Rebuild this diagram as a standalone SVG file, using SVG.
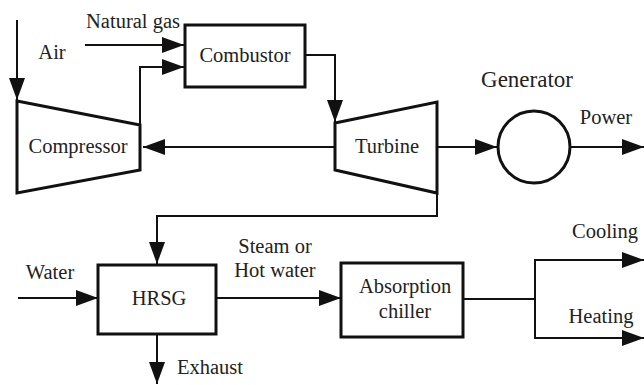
<svg xmlns="http://www.w3.org/2000/svg" width="644" height="385" viewBox="0 0 644 385">
<style>
.t{font-family:"Liberation Serif","Times New Roman",serif;font-size:20.5px;fill:#222;text-anchor:middle}
.box{fill:#fff;stroke:#111;stroke-width:3}
.ln{fill:none;stroke:#111;stroke-width:2}
.ar{fill:none;stroke:#111;stroke-width:2;marker-end:url(#ah)}
</style>
<defs>
<marker id="ah" markerUnits="userSpaceOnUse" markerWidth="23" markerHeight="17" refX="22" refY="8" orient="auto">
<path d="M0,0 L22,8 L0,16 z" fill="#111"/>
</marker>
</defs>
<rect width="644" height="385" fill="#fff"/>
<g id="connectors">
<path class="ar" d="M17,20 V100"/>
<path class="ar" d="M85,45 H184"/>
<path class="ar" d="M140,125 V67 H184"/>
<path class="ar" d="M305,55 H335 V122"/>
<path class="ar" d="M335,147 H143"/>
<path class="ar" d="M437,147 H497"/>
<path class="ar" d="M570,147 H644"/>
<path class="ar" d="M437,193 V216 H157 V264"/>
<path class="ar" d="M18,298 H98"/>
<path class="ar" d="M216,298 H341"/>
<path class="ar" d="M157,334 V384"/>
<path class="ln" d="M463,299 H535"/>
<path class="ar" d="M535,299 V260 H644"/>
<path class="ar" d="M535,299 V338 H644"/>
</g>
<g id="compressor">
<path class="box" d="M17,101 L140,125 L140,170 L17,193 Z"/>
<text class="t" x="78" y="153">Compressor</text>
</g>
<g id="combustor">
<rect class="box" x="185" y="25" width="120" height="62"/>
<text class="t" x="245" y="62">Combustor</text>
</g>
<g id="turbine">
<path class="box" d="M335,123 L437,102 L437,193 L335,170 Z"/>
<text class="t" x="387" y="153">Turbine</text>
</g>
<g id="generator">
<circle class="box" cx="534" cy="147" r="36"/>
<text class="t" x="527" y="87" style="font-size:23px">Generator</text>
</g>
<g id="hrsg">
<rect class="box" x="98" y="265" width="118" height="69"/>
<text class="t" x="159" y="305">HRSG</text>
</g>
<g id="absorption-chiller">
<rect class="box" x="341" y="263" width="122" height="74"/>
<text class="t" x="405" y="293">Absorption</text>
<text class="t" x="405" y="318">chiller</text>
</g>
<g id="labels">
<text class="t" x="133" y="28">Natural gas</text>
<text class="t" x="52" y="59">Air</text>
<text class="t" x="606" y="124">Power</text>
<text class="t" x="50" y="279">Water</text>
<text class="t" x="275" y="253">Steam or</text>
<text class="t" x="275" y="277">Hot water</text>
<text class="t" x="210" y="374">Exhaust</text>
<text class="t" x="605" y="238">Cooling</text>
<text class="t" x="601" y="323">Heating</text>
</g>
</svg>
